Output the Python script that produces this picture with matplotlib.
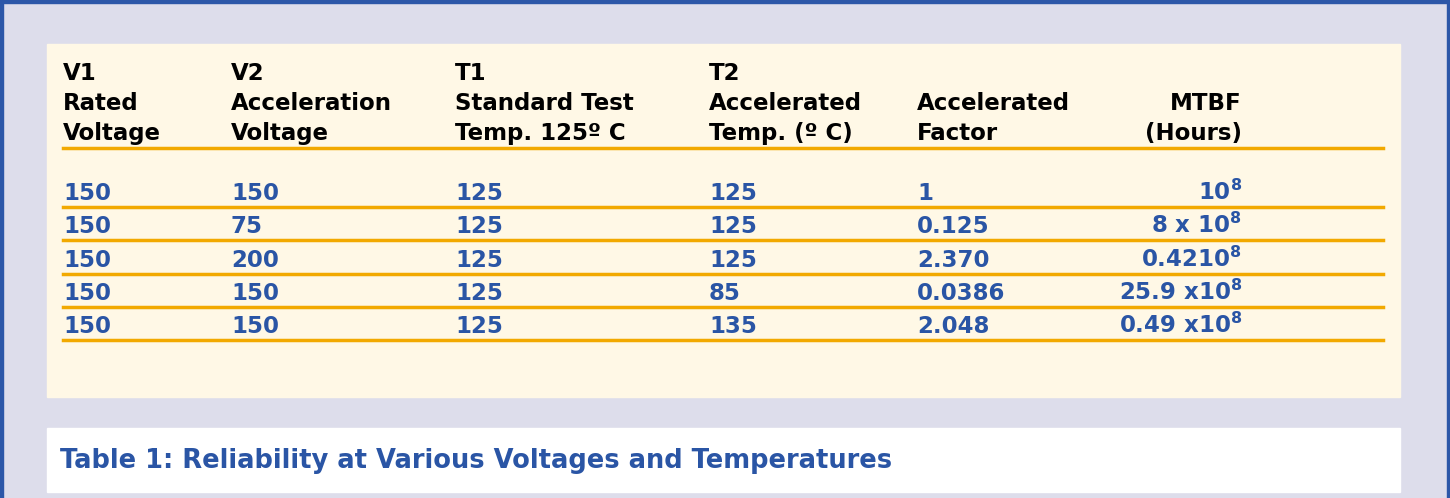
import matplotlib
matplotlib.use("Agg")
import matplotlib.pyplot as plt
from matplotlib.patches import Rectangle

FONT = 'DejaVu Sans'
plt.rcParams['mathtext.fontset'] = 'custom'
plt.rcParams['mathtext.bf'] = FONT + ':bold'
plt.rcParams['mathtext.rm'] = FONT + ':bold'
plt.rcParams['mathtext.default'] = 'bf'

headers = [["V1", "Rated", "Voltage"],
           ["V2", "Acceleration", "Voltage"],
           ["T1", "Standard Test", "Temp. 125º C"],
           ["T2", "Accelerated", "Temp. (º C)"],
           ["", "Accelerated", "Factor"],
           ["", "MTBF", "(Hours)"]]
v1 = ["150", "150", "150", "150", "150"]
v2 = ["150", "75", "200", "150", "150"]
t1 = ["125", "125", "125", "125", "125"]
t2 = ["125", "125", "125", "85", "135"]
factor = ["1", "0.125", "2.370", "0.0386", "2.048"]
mtbf = ["10$^{8}$", "8 x 10$^{8}$", "0.4210$^{8}$", "25.9 x10$^{8}$", "0.49 x10$^{8}$"]
caption = "Table 1: Reliability at Various Voltages and Temperatures"

BLUE = "#2A55A5"
ORANGE = "#F2A900"
W, H = 1450, 498
fig = plt.figure(figsize=(14.5, 4.98), dpi=100)
ax = fig.add_axes([0, 0, 1, 1])
ax.set_xlim(0, W); ax.set_ylim(H, 0); ax.axis('off')
fig.patch.set_facecolor("#DDDDEB")
ax.add_patch(Rectangle((0, 0), 3, H, color="#2C57A8"))
ax.add_patch(Rectangle((0, 0), W, 3, color="#2C57A8"))
ax.add_patch(Rectangle((1447, 0), 3, H, color="#2C57A8"))
ax.add_patch(Rectangle((47, 44), 1353, 353, color="#FFF8E6"))
ax.add_patch(Rectangle((47, 428), 1353, 64, color="white"))

xs = [63, 231, 455, 709, 917]
right_x = 1242
fs = 16.5
for i, h in enumerate(headers):
    for j, line in enumerate(h):
        if not line:
            continue
        y = 80 + 30 * j
        ha = 'left' if i < 5 else 'right'
        x = xs[i] if i < 5 else right_x
        ax.text(x, y, line, fontsize=fs, fontweight='bold', family=FONT, va='baseline', ha=ha, color='black')
ax.plot([63, 1383], [148, 148], color=ORANGE, lw=2.5)

cols = [v1, v2, t1, t2, factor]
for r in range(5):
    y = 200 + 33.3 * r
    for c, col in enumerate(cols):
        ax.text(xs[c], y, col[r], fontsize=fs, fontweight='bold', family=FONT, va='baseline', color=BLUE)
    ax.text(right_x, y, mtbf[r], fontsize=fs, fontweight='bold', family=FONT, va='baseline', ha='right', color=BLUE)
    ly = 207 + 33.3 * r
    ax.plot([63, 1383], [ly, ly], color=ORANGE, lw=2.5)

ax.text(60, 468, caption, fontsize=18.5, fontweight='bold', family=FONT, va='baseline', color=BLUE)
fig.savefig("out.png", dpi=100, facecolor=fig.get_facecolor())
